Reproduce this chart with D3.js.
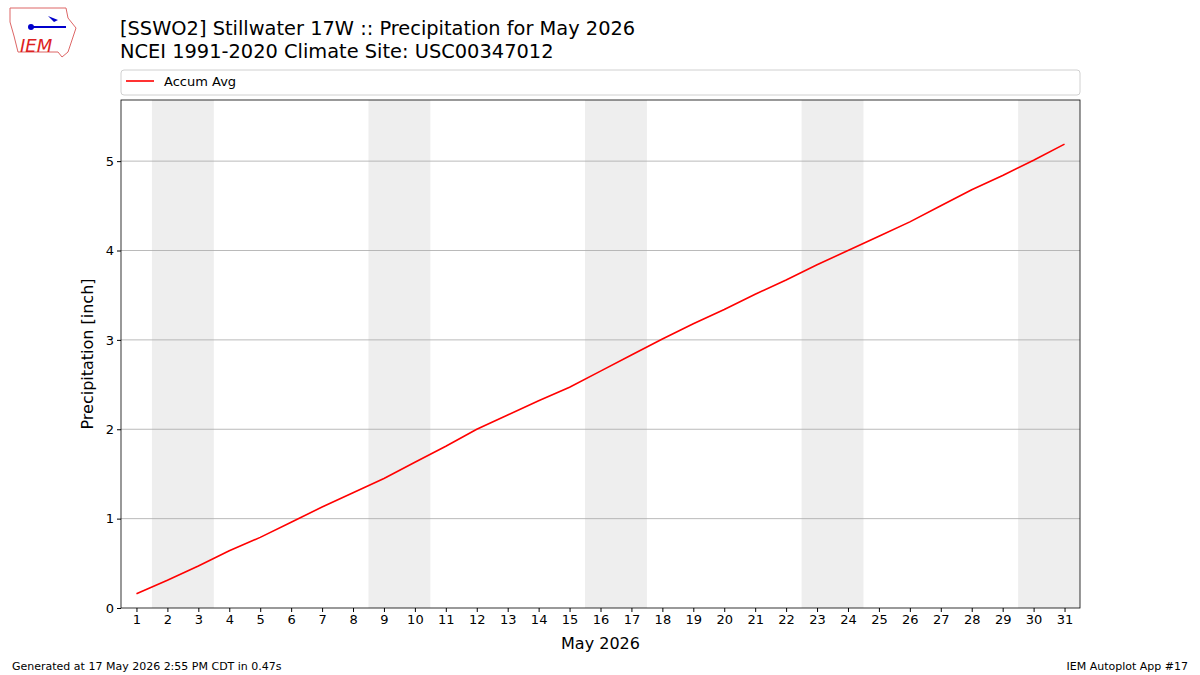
<!DOCTYPE html>
<html><head><meta charset="utf-8">
<script src="https://cdn.jsdelivr.net/npm/d3@7"></script>
<style>body{margin:0;background:#fff}svg text{font-family:"DejaVu Sans",sans-serif}</style>
</head><body>
<svg id="c" width="1200" height="675"></svg>
<script>
// daily accumulated average precipitation, May 1..31
var days = d3.range(1, 32);
var accumAvg = [0.16,0.31,0.47,0.64,0.79,0.96,1.13,1.29,1.45,1.63,1.81,2.00,2.16,2.32,2.47,2.65,2.83,3.01,3.18,3.34,3.51,3.67,3.84,4.00,4.16,4.32,4.50,4.68,4.84,5.01,5.19];
var weekendStarts = [2, 9, 16, 23, 30];
var yTicks = [0, 1, 2, 3, 4, 5];

var svg = d3.select('#c');
var m = {l: 121, r: 1080, t: 100, b: 608};
var x = d3.scaleLinear().domain([0.5, 31.5]).range([m.l, m.r]);
var y = d3.scaleLinear().domain([0, 5.684]).range([m.b, m.t]);

svg.selectAll('rect.we').data(weekendStarts).enter().append('rect')
    .attr('x', d => x(d - 0.5))
    .attr('width', d => x(Math.min(d + 1.5, 31.5)) - x(d - 0.5))
    .attr('y', m.t).attr('height', m.b - m.t).attr('fill', '#eeeeee');

svg.selectAll('line.grid').data(yTicks.slice(1)).enter().append('line')
    .attr('x1', m.l).attr('x2', m.r).attr('y1', d => y(d)).attr('y2', d => y(d))
    .attr('stroke', '#a8a8a8').attr('stroke-width', 0.8);

svg.append('path').datum(accumAvg)
    .attr('d', d3.line().x((d, i) => x(days[i])).y(d => y(d)))
    .attr('fill', 'none').attr('stroke', 'red').attr('stroke-width', 1.6);

var xa = svg.append('g').attr('transform', 'translate(0,' + m.b + ')')
    .call(d3.axisBottom(x).tickValues(days).tickFormat(d3.format('d')).tickSize(4));
var ya = svg.append('g').attr('transform', 'translate(' + m.l + ',0)')
    .call(d3.axisLeft(y).tickValues(yTicks).tickFormat(d3.format('d')).tickSize(4));
[xa, ya].forEach(a => {
    a.select('.domain').remove();
    a.selectAll('text').attr('font-size', 13).attr('fill', '#000');
    a.selectAll('line').attr('stroke', '#000');
});
svg.append('rect').attr('x', m.l).attr('y', m.t).attr('width', m.r - m.l).attr('height', m.b - m.t)
    .attr('fill', 'none').attr('stroke', '#000').attr('stroke-width', 0.8);

svg.append('text').attr('x', (m.l + m.r) / 2).attr('y', 649).attr('text-anchor', 'middle')
    .attr('font-size', 16).text('May 2026');
svg.append('text').attr('transform', 'translate(93,' + (m.t + m.b) / 2 + ') rotate(-90)')
    .attr('text-anchor', 'middle').attr('font-size', 16).text('Precipitation [inch]');

svg.append('text').attr('x', 120).attr('y', 35).attr('font-size', 19.4).text('[SSWO2] Stillwater 17W :: Precipitation for May 2026');
svg.append('text').attr('x', 120).attr('y', 58).attr('font-size', 19.4).text('NCEI 1991-2020 Climate Site: USC00347012');

// legend
svg.append('rect').attr('x', 121).attr('y', 70).attr('width', 959).attr('height', 25).attr('rx', 3)
    .attr('fill', '#fff').attr('stroke', '#d0d0d0');
svg.append('line').attr('x1', 126).attr('x2', 154).attr('y1', 81).attr('y2', 81).attr('stroke', 'red').attr('stroke-width', 1.6);
svg.append('text').attr('x', 164).attr('y', 86).attr('font-size', 13).text('Accum Avg');

svg.append('text').attr('x', 12).attr('y', 670).attr('font-size', 11).text('Generated at 17 May 2026 2:55 PM CDT in 0.47s');
svg.append('text').attr('x', 1188).attr('y', 670).attr('text-anchor', 'end').attr('font-size', 11).text('IEM Autoplot App #17');

// logo
var lg = svg.append('g');
lg.append('path').attr('d', 'M10,8 L66,8 L68,18 L76,28 L72,40 L68,52 L62,57 L58,52 L18,52 L14,36 L10,22 Z')
    .attr('fill', 'none').attr('stroke', '#d66').attr('stroke-width', 1);
lg.append('line').attr('x1', 30).attr('x2', 66).attr('y1', 27).attr('y2', 27).attr('stroke', '#00c').attr('stroke-width', 2);
lg.append('circle').attr('cx', 31).attr('cy', 27).attr('r', 3).attr('fill', '#00c');
lg.append('path').attr('d', 'M48,16 L58,20 L54,22 Z').attr('fill', '#00c');
lg.append('text').attr('x', 20).attr('y', 52).attr('font-size', 18).attr('font-style', 'italic')
    .attr('font-family', 'Liberation Serif').attr('fill', '#d22').text('IEM');
</script>
</body></html>
